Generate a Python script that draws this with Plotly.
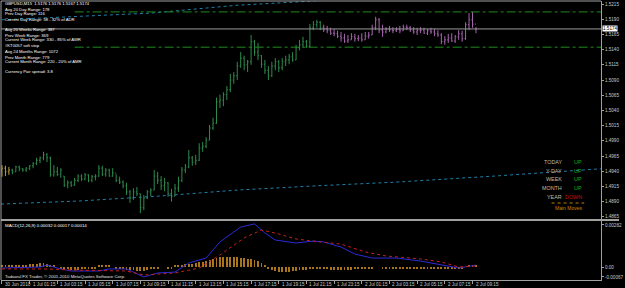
import plotly.graph_objects as go

# ---------------- data ----------------
bar_open = [1.4942,1.4945,1.4939,1.4942,1.4939,1.4947,1.4944,1.4942,1.4945,1.4949,
            1.4953,1.4958,1.4962,1.4967,1.4962,1.4934,1.4939,1.4935,1.4932,1.4917,
            1.4921,1.4917,1.4925,1.4932,1.4927,1.4934,1.4925,1.4931,1.4932,1.4945,
            1.4935,1.4942,1.4932,1.4937,1.4925,1.4922,1.4916,1.4906,1.4896,1.4906,
            1.4903,1.4880,1.4896,1.4906,1.4909,1.4932,1.4925,1.4916,1.4921,1.4903,
            1.4899,1.4912,1.4925,1.4942,1.4947,1.4962,1.4955,1.4958,1.4978,1.4981,
            1.4991,1.5011,1.5019,1.5054,1.5057,1.5066,1.5074,1.5090,1.5097,1.5113,
            1.5126,1.5115,1.5120,1.5153,1.5136,1.5130,1.5116,1.5106,1.5097,1.5113,
            1.5120,1.5110,1.5120,1.5123,1.5128,1.5123,1.5143,1.5148,1.5153,1.5146,
            1.5176,1.5181,1.5185,1.5177,1.5174,1.5171,1.5167,1.5166,1.5162,1.5159,
            1.5154,1.5156,1.5161,1.5158,1.5159,1.5156,1.5162,1.5164,1.5176,1.5189,
            1.5172,1.5169,1.5174,1.5172,1.5171,1.5174,1.5171,1.5177,1.5176,1.5172,
            1.5169,1.5171,1.5172,1.5167,1.5171,1.5169,1.5166,1.5164,1.5153,1.5156,
            1.5159,1.5154,1.5161,1.5166,1.5158,1.5181,1.5189,1.5182]
bar_high = [1.4950,1.4949,1.4947,1.4944,1.4949,1.4949,1.4945,1.4947,1.4950,1.4955,
            1.4962,1.4964,1.4972,1.4970,1.4964,1.4950,1.4947,1.4945,1.4932,1.4925,
            1.4924,1.4929,1.4935,1.4935,1.4937,1.4935,1.4934,1.4935,1.4950,1.4949,
            1.4945,1.4944,1.4945,1.4935,1.4931,1.4925,1.4921,1.4909,1.4912,1.4914,
            1.4903,1.4901,1.4909,1.4912,1.4942,1.4939,1.4932,1.4929,1.4922,1.4911,
            1.4919,1.4931,1.4947,1.4952,1.4975,1.4965,1.4967,1.4986,1.4988,1.4996,
            1.5016,1.5028,1.5061,1.5066,1.5070,1.5080,1.5100,1.5103,1.5120,1.5136,
            1.5130,1.5123,1.5164,1.5156,1.5151,1.5131,1.5123,1.5113,1.5120,1.5126,
            1.5123,1.5126,1.5130,1.5133,1.5136,1.5148,1.5156,1.5161,1.5156,1.5182,
            1.5187,1.5189,1.5187,1.5181,1.5179,1.5176,1.5174,1.5171,1.5169,1.5166,
            1.5164,1.5167,1.5166,1.5164,1.5167,1.5169,1.5169,1.5181,1.5194,1.5192,
            1.5181,1.5177,1.5179,1.5177,1.5177,1.5179,1.5181,1.5181,1.5179,1.5177,
            1.5176,1.5177,1.5176,1.5174,1.5176,1.5174,1.5172,1.5167,1.5162,1.5166,
            1.5167,1.5164,1.5172,1.5171,1.5185,1.5200,1.5202,1.5177]
bar_low = [1.4931,1.4932,1.4934,1.4935,1.4939,1.4940,1.4939,1.4939,1.4942,1.4945,
           1.4950,1.4953,1.4958,1.4955,1.4931,1.4931,1.4932,1.4929,1.4914,1.4912,
           1.4914,1.4916,1.4922,1.4924,1.4925,1.4922,1.4922,1.4925,1.4931,1.4932,
           1.4931,1.4931,1.4931,1.4922,1.4919,1.4912,1.4901,1.4888,1.4893,1.4899,
           1.4871,1.4876,1.4894,1.4899,1.4909,1.4919,1.4909,1.4907,1.4898,1.4890,
           1.4899,1.4906,1.4922,1.4937,1.4945,1.4949,1.4950,1.4957,1.4972,1.4978,
           1.4991,1.5008,1.5018,1.5044,1.5047,1.5057,1.5070,1.5084,1.5090,1.5110,
           1.5106,1.5103,1.5115,1.5130,1.5123,1.5110,1.5100,1.5090,1.5095,1.5106,
           1.5103,1.5106,1.5113,1.5116,1.5120,1.5123,1.5139,1.5143,1.5143,1.5143,
           1.5172,1.5176,1.5172,1.5169,1.5167,1.5164,1.5162,1.5159,1.5153,1.5151,
           1.5151,1.5156,1.5153,1.5154,1.5153,1.5156,1.5158,1.5164,1.5172,1.5167,
           1.5161,1.5167,1.5169,1.5167,1.5169,1.5167,1.5171,1.5172,1.5169,1.5166,
           1.5164,1.5167,1.5166,1.5164,1.5166,1.5162,1.5161,1.5149,1.5148,1.5151,
           1.5153,1.5151,1.5156,1.5153,1.5156,1.5172,1.5176,1.5167]
bar_close = [1.4945,1.4939,1.4942,1.4939,1.4947,1.4944,1.4942,1.4945,1.4949,1.4953,
             1.4958,1.4962,1.4967,1.4962,1.4934,1.4939,1.4935,1.4942,1.4917,1.4921,
             1.4917,1.4925,1.4932,1.4927,1.4934,1.4925,1.4931,1.4932,1.4945,1.4935,
             1.4942,1.4932,1.4937,1.4925,1.4922,1.4916,1.4906,1.4896,1.4906,1.4903,
             1.4880,1.4896,1.4906,1.4909,1.4932,1.4925,1.4916,1.4921,1.4903,1.4899,
             1.4912,1.4925,1.4942,1.4947,1.4962,1.4955,1.4958,1.4978,1.4981,1.4991,
             1.5011,1.5019,1.5054,1.5057,1.5066,1.5074,1.5090,1.5097,1.5113,1.5126,
             1.5115,1.5120,1.5153,1.5136,1.5130,1.5116,1.5106,1.5097,1.5113,1.5120,
             1.5110,1.5120,1.5123,1.5128,1.5123,1.5143,1.5148,1.5153,1.5146,1.5176,
             1.5181,1.5185,1.5177,1.5174,1.5171,1.5167,1.5166,1.5162,1.5159,1.5154,
             1.5156,1.5161,1.5158,1.5159,1.5156,1.5162,1.5164,1.5176,1.5189,1.5172,
             1.5169,1.5174,1.5172,1.5171,1.5174,1.5171,1.5177,1.5176,1.5172,1.5169,
             1.5171,1.5172,1.5167,1.5171,1.5169,1.5166,1.5164,1.5153,1.5156,1.5159,
             1.5154,1.5161,1.5166,1.5158,1.5181,1.5189,1.5182,1.5174]

# MACD histogram (one per bar)
macd_hist = [0.00007,0.00007,0.00007,0.00013,0.00013,0.00013,0.00013,0.00013,0.0002,0.0002,
             0.0002,0.00027,0.00027,0.0002,0.00013,0.00007,0.0,-0.00007,-0.00013,-0.00013,
             -0.0002,-0.0002,-0.0002,-0.00013,-0.00013,-0.00007,-0.00007,-0.00007,0.00007,0.00007,
             0.00007,0.00007,0.0,-0.00007,-0.00013,-0.00013,-0.0002,-0.0002,-0.0002,-0.00027,
             -0.00027,-0.00027,-0.0002,-0.00013,-0.00007,-0.00007,0.0,0.0,-0.00007,-0.00007,
             0.00007,0.00007,0.00013,0.0002,0.0002,0.0002,0.00027,0.00034,0.00034,0.0004,
             0.00047,0.00054,0.0006,0.00067,0.00067,0.00067,0.00067,0.00067,0.00067,0.0006,
             0.0006,0.00054,0.00054,0.00047,0.0004,0.00027,0.00013,-0.00007,-0.0002,-0.00027,
             -0.00034,-0.00034,-0.00034,-0.00034,-0.00027,-0.00027,-0.0002,-0.0002,-0.0002,-0.00013,
             -0.00007,-0.00007,-0.00007,-0.00013,-0.00013,-0.0002,-0.0002,-0.0002,-0.0002,-0.0002,
             -0.0002,-0.0002,-0.00013,-0.00013,-0.00013,-0.00007,-0.00007,-0.00007,0.0,0.0,
             -0.00007,-0.00007,-0.00007,-0.00007,-0.00007,-0.00007,-0.00007,-0.00007,-0.00007,-0.00007,
             -0.00007,-0.00007,-0.00007,-0.00007,-0.00007,-0.00007,-0.00007,-0.00013,-0.00013,-0.00013,
             -0.00013,-0.00013,-0.00007,-0.00007,0.0,0.00007,0.00007,0.00007]

# MACD main & signal lines (bar index, value)
macd_idx = [0,11,13,17,20,28,31,36,41,45,50,54,59,63,67,69,73,76,79,85,90,93,98,102,107,114,121,127,132,137]
macd_val = [-0.00007,0.0,0.00013,-0.00013,-0.00027,-0.00027,-0.00013,-0.00013,-0.00067,-0.0004,
            -0.00034,0.00027,0.0006,0.00168,0.00235,0.00268,0.00289,0.00228,0.00181,0.00161,
            0.00174,0.00168,0.00134,0.00087,0.0006,0.0006,0.0004,0.00013,-0.00007,0.00013]
sig_idx = [0,13,20,36,41,50,57,63,70,75,79,85,92,98,105,111,121,127,132,137]
sig_val = [-0.00013,-0.00013,-0.0002,-0.00027,-0.00054,-0.0004,-0.00007,0.00081,0.00195,0.00248,
           0.00228,0.00188,0.00168,0.00154,0.00101,0.00074,0.00054,0.00034,0.0,0.00007]

# moving averages (bar index, price)
ma_slow_idx = [-0.3,22.3,45.1,68.0,90.9,113.7,142.3,173.1]
ma_slow_val = [1.4886,1.4891,1.4899,1.4909,1.4916,1.4922,1.4932,1.4944]
ma_fast_idx = [0.0,21.1,42.9,68.0,96.6]
ma_fast_val = [1.5189,1.5194,1.5200,1.5213,1.5222]

# levels
current_price = 1.5174
adr_high = 1.5202
adr_low = 1.5144

price_ticks = [1.5215,1.5190,1.5165,1.5140,1.5115,1.5090,1.5065,1.5040,1.5015,
               1.4990,1.4965,1.4940,1.4915,1.4890,1.4865]
macd_ticks = [0.00282, 0.0, -0.00067]
macd_ticktext = ["0.00282", "0.00", "-0.00067"]

time_tick_idx = [0,8,16,24,32,40,48,56,64,72,80,88,96,104,112,120,128,136]
time_tick_labels = ["30 Jun 2010","1 Jul 01:15","1 Jul 03:15","1 Jul 05:15","1 Jul 07:15",
                    "1 Jul 09:15","1 Jul 11:15","1 Jul 13:15","1 Jul 15:15","1 Jul 17:15",
                    "1 Jul 19:15","1 Jul 21:15","1 Jul 23:15","2 Jul 01:15","2 Jul 03:15",
                    "2 Jul 05:15","2 Jul 07:15","2 Jul 09:15"]

info_texts = ["GBPUSD,M15  1.5176 1.5176 1.5167 1.5174",
              "Avg 20 Day Range: 178",
              "Prev Day Range: 116",
              "Current Day Range: 58 - 32% of ADR",
              "Avg 20 Weeks Range: 387",
              "Prev Week Range: 369",
              "Current Week Range: 330 - 85% of AWR",
              "#KT0057 soft stop",
              "Avg 24 Months Range: 1072",
              "Prev Month Range: 779",
              "Current Month Range: 220 - 20% of AMR",
              "Currency Pair spread: 3.8"]
info_rows = [4, 9, 14, 19, 30, 35, 40, 45, 52, 57, 62, 71]

trend_labels = ["TODAY", "Y-DAY", "WEEK", "MONTH", "YEAR"]
trend_values = ["UP", "UP", "UP", "UP", "DOWN"]

# ---------------- layout helpers ----------------
W, H = 625, 288
ML, MR, MT, MB = 1, 17, 1, 8
PW, PH = W - ML - MR, H - MT - MB

def px(x):
    return (x - ML) / PW

def py(y):
    return (H - MB - y) / PH

FONT = "Liberation Sans"
n = len(bar_close)
idx = list(range(n))

fig = go.Figure()

segments = [(0, 3, "#b4a040"), (3, 93, "#2e8b4e"), (93, n, "#a464ac")]
for a, b, col in segments:
    fig.add_trace(go.Ohlc(
        x=idx[a:b], open=bar_open[a:b], high=bar_high[a:b], low=bar_low[a:b], close=bar_close[a:b],
        increasing=dict(line=dict(color=col, width=1)),
        decreasing=dict(line=dict(color=col, width=1)),
        tickwidth=0.3, xaxis="x", yaxis="y", showlegend=False, hoverinfo="skip"))

fig.add_trace(go.Scatter(x=ma_slow_idx, y=ma_slow_val, mode="lines",
                         line=dict(color="#1f7fa8", width=1, dash="dot"),
                         xaxis="x", yaxis="y", showlegend=False, hoverinfo="skip"))
fig.add_trace(go.Scatter(x=ma_fast_idx, y=ma_fast_val, mode="lines",
                         line=dict(color="#1f7fa8", width=1, dash="dot"),
                         xaxis="x", yaxis="y", showlegend=False, hoverinfo="skip"))

# MACD panel
fig.add_trace(go.Bar(x=idx, y=macd_hist, width=0.26, marker=dict(color="#a8741c", line=dict(width=0)),
                     xaxis="x2", yaxis="y2", showlegend=False, hoverinfo="skip"))
fig.add_trace(go.Scatter(x=macd_idx, y=macd_val, mode="lines", line=dict(color="#2b2bd8", width=1),
                         xaxis="x2", yaxis="y2", showlegend=False, hoverinfo="skip"))
fig.add_trace(go.Scatter(x=sig_idx, y=sig_val, mode="lines", line=dict(color="#c82020", width=1, dash="dot"),
                         xaxis="x2", yaxis="y2", showlegend=False, hoverinfo="skip"))

xr = [(ML - 2) / 3.5, (W - MR - 2) / 3.5]
main_dom = [py(219), 1.0]
macd_dom = [0.0, py(221)]
p_top = 1.52216 - 0.00016447 * 1
p_bot = 1.52216 - 0.00016447 * 219
m_top = (267 - 221) * 0.0000671
m_bot = (267 - 280) * 0.0000671

axis_font = dict(family=FONT, size=4.6, color="#c8c8c8")

fig.update_layout(
    width=W, height=H, margin=dict(l=ML, r=MR, t=MT, b=MB),
    paper_bgcolor="#000000", plot_bgcolor="#000000",
    showlegend=False, bargap=0,
    xaxis=dict(domain=[0, 1], range=xr, anchor="y", showgrid=False, zeroline=False,
               showticklabels=False, ticks="", rangeslider=dict(visible=False), fixedrange=True),
    yaxis=dict(domain=main_dom, range=[p_bot, p_top], side="right", anchor="x",
               showgrid=False, zeroline=False, showline=True, linecolor="#a0a0a0", linewidth=1,
               ticks="outside", ticklen=2, tickcolor="#a0a0a0",
               tickvals=price_ticks, ticktext=["%.4f" % v for v in price_ticks],
               tickfont=axis_font),
    xaxis2=dict(domain=[0, 1], range=xr, anchor="y2", showgrid=False, zeroline=False,
                showticklabels=False, ticks="outside", ticklen=3, tickcolor="#a0a0a0",
                tickvals=time_tick_idx, showline=True, linecolor="#a0a0a0"),
    yaxis2=dict(domain=macd_dom, range=[m_bot, m_top], side="right", anchor="x2",
                showgrid=False, zeroline=False, showline=True, linecolor="#a0a0a0",
                ticks="outside", ticklen=2, tickcolor="#a0a0a0",
                tickvals=macd_ticks, ticktext=macd_ticktext, tickfont=axis_font),
)

shapes = []
shapes.append(dict(type="line", xref="paper", yref="paper", x0=0, x1=1, y0=1, y1=1,
                   line=dict(color="#a0a0a0", width=1)))
shapes.append(dict(type="line", xref="paper", yref="paper", x0=0, x1=1.03, y0=py(220), y1=py(220),
                   line=dict(color="#a0a0a0", width=2)))
shapes.append(dict(type="line", xref="paper", yref="paper", x0=0, x1=0, y0=0, y1=1,
                   line=dict(color="#a0a0a0", width=1)))
shapes.append(dict(type="line", xref="x domain", yref="y", x0=0, x1=1, y0=current_price, y1=current_price,
                   line=dict(color="#9a9a9a", width=1)))
for lvl in (adr_high, adr_low):
    shapes.append(dict(type="line", xref="x", yref="y", x0=21, x1=xr[1], y0=lvl, y1=lvl,
                       line=dict(color="#1f8a1f", width=1, dash="dashdot")))
shapes.append(dict(type="line", xref="paper", yref="paper", x0=px(558), x1=px(591), y0=py(203), y1=py(203),
                   line=dict(color="#c08000", width=1, dash="dot")))
fig.update_layout(shapes=shapes)

ann = []
for t, r in zip(info_texts, info_rows):
    ann.append(dict(text=t, xref="paper", yref="paper", x=px(3), y=py(r), xanchor="left", yanchor="middle",
                    showarrow=False, font=dict(family=FONT, size=4.2, color="#ffffff")))
ann.append(dict(text="MACD(12,26,9) 0.00032 0.00017 0.00014", xref="paper", yref="paper", x=px(3), y=py(225),
                xanchor="left", yanchor="middle", showarrow=False, font=dict(family=FONT, size=4.4, color="#ffffff")))
ann.append(dict(text="Tadawul FX Trader, © 2001-2010 MetaQuotes Software Corp.", xref="paper", yref="paper",
                x=px(3), y=py(276), xanchor="left", yanchor="middle", showarrow=False,
                font=dict(family=FONT, size=4.4, color="#e0e0e0")))
for i, lab in zip(time_tick_idx, time_tick_labels):
    ann.append(dict(text=lab, xref="x2", yref="paper", x=i, y=py(284), xanchor="left", yanchor="middle",
                    xshift=1, showarrow=False, font=dict(family=FONT, size=4.6, color="#c8c8c8")))
rows = [162, 171, 179, 188, 197]
for lab, val, r in zip(trend_labels, trend_values, rows):
    ann.append(dict(text=lab, xref="paper", yref="paper", x=px(571), y=py(r), xanchor="right", yanchor="middle",
                    showarrow=False, font=dict(family=FONT, size=5.4, color="#c8b89c")))
    ann.append(dict(text=val, xref="paper", yref="paper", x=px(591), y=py(r), xanchor="right", yanchor="middle",
                    showarrow=False, font=dict(family=FONT, size=5.4, color="#19b019" if val == "UP" else "#c81010")))
ann.append(dict(text="Main Moves", xref="paper", yref="paper", x=px(575), y=py(208), xanchor="center",
                yanchor="middle", showarrow=False, font=dict(family=FONT, size=5.0, color="#d08000")))
ann.append(dict(text="%.4f" % current_price, xref="paper", yref="y", x=1.0, y=current_price, xanchor="left",
                yanchor="middle", xshift=1, showarrow=False, bgcolor="#ffffff", borderpad=0,
                font=dict(family=FONT, size=4.6, color="#000000")))
fig.update_layout(annotations=ann)

fig.write_html("out.html")
